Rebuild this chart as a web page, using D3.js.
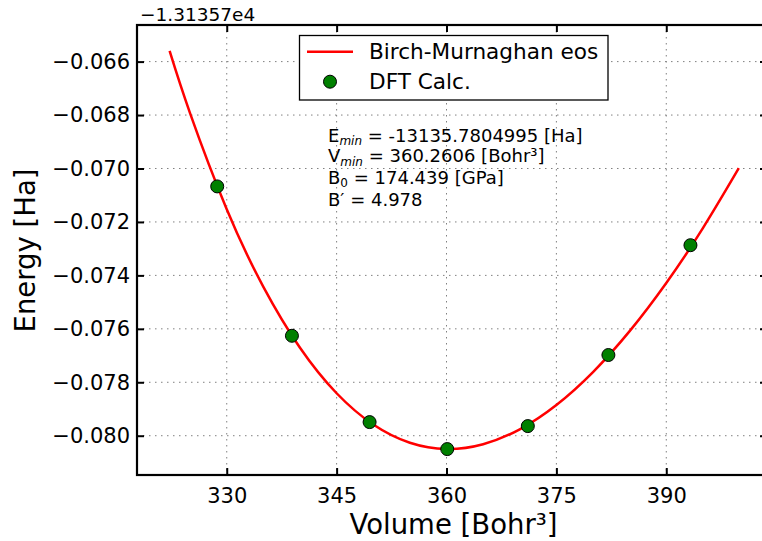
<!DOCTYPE html>
<html>
<head>
<meta charset="utf-8">
<script src="https://cdn.jsdelivr.net/npm/d3@7"></script>
<style>
  html, body { margin: 0; padding: 0; background: #ffffff; }
  svg { display: block; font-family: "DejaVu Sans", sans-serif; }
</style>
</head>
<body>
<svg id="chart" width="762" height="541"></svg>
<script>
// ---- data ----
const xTicks = [330, 345, 360, 375, 390];
const xTickLabels = ["330", "345", "360", "375", "390"];
const yTicks = [-0.080, -0.078, -0.076, -0.074, -0.072, -0.070, -0.068, -0.066];
const yTickLabels = ["\u22120.080", "\u22120.078", "\u22120.076", "\u22120.074", "\u22120.072", "\u22120.070", "\u22120.068", "\u22120.066"];
const offsetLabel = "\u22121.31357e4";

// DFT calculation points (relative to offset)
const dftVolume = [328.7, 338.9, 349.5, 360.1, 371.1, 382.1, 393.3];
const dftEnergy = [-0.07067, -0.07626, -0.07949, -0.08050, -0.07964, -0.07698, -0.07287];

// Birch-Murnaghan fit curve, sampled along the red line
const fitVolume = [322.2, 325, 330, 335, 340, 345, 350, 355, 360, 365, 370, 375, 380, 385, 390, 395, 399.9];
const fitEnergy = [-0.06560, -0.067937, -0.071524, -0.07443, -0.076709, -0.078411, -0.079582, -0.080265,
                   -0.080499, -0.080319, -0.079759, -0.078849, -0.077617, -0.076087, -0.074285, -0.072232, -0.06999];

const legendLabels = ["Birch-Murnaghan eos", "DFT Calc."];
const xLabel = "Volume [Bohr\u00B3]";
const yLabel = "Energy [Ha]";

// ---- layout ----
const svg = d3.select("#chart");
const pLeft = 137, pRight = 767, pTop = 25, pBottom = 475;

const x = d3.scaleLinear().domain([317.75, 403.75]).range([pLeft, pRight]);
const y = d3.scaleLinear().domain([-0.08147, -0.06463]).range([pBottom, pTop]);

svg.append("rect").attr("width", 762).attr("height", 541).attr("fill", "#ffffff");

// grid
const grid = svg.append("g");
grid.selectAll("line.gx").data(xTicks).enter().append("line")
  .attr("x1", d => x(d)).attr("x2", d => x(d))
  .attr("y1", pTop).attr("y2", pBottom)
  .attr("stroke", "#808080").attr("stroke-width", 1).attr("stroke-dasharray", "1.5,4.5");
grid.selectAll("line.gy").data(yTicks).enter().append("line")
  .attr("x1", pLeft).attr("x2", pRight)
  .attr("y1", d => y(d)).attr("y2", d => y(d))
  .attr("stroke", "#808080").attr("stroke-width", 1).attr("stroke-dasharray", "1.5,4.5");

// axes
const fs = 21;
const yAxis = d3.axisLeft(y).tickValues(yTicks)
  .tickFormat((d, i) => yTickLabels[i]).tickSizeInner(-7).tickSizeOuter(0).tickPadding(7);
const gy = svg.append("g").attr("transform", `translate(${pLeft},0)`).call(yAxis);
gy.select(".domain").remove();
gy.selectAll(".tick line").attr("stroke", "#000").attr("stroke-width", 2);
gy.selectAll(".tick text").attr("font-size", fs).attr("font-family", "DejaVu Sans").attr("fill", "#000");

const xAxis = d3.axisBottom(x).tickValues(xTicks)
  .tickFormat((d, i) => xTickLabels[i]).tickSizeInner(-7).tickSizeOuter(0).tickPadding(13);
const gx = svg.append("g").attr("transform", `translate(0,${pBottom})`).call(xAxis);
gx.select(".domain").remove();
gx.selectAll(".tick line").attr("stroke", "#000").attr("stroke-width", 2);
gx.selectAll(".tick text").attr("font-size", fs).attr("font-family", "DejaVu Sans").attr("fill", "#000");

const xAxisTop = d3.axisTop(x).tickValues(xTicks).tickFormat("").tickSizeInner(-7).tickSizeOuter(0);
const gxt = svg.append("g").attr("transform", `translate(0,${pTop})`).call(xAxisTop);
gxt.select(".domain").remove();
gxt.selectAll(".tick line").attr("stroke", "#000").attr("stroke-width", 2);

const yAxisRight = d3.axisRight(y).tickValues(yTicks).tickFormat("").tickSizeInner(-7).tickSizeOuter(0);
const gyr = svg.append("g").attr("transform", `translate(${pRight},0)`).call(yAxisRight);
gyr.select(".domain").remove();
gyr.selectAll(".tick line").attr("stroke", "#000").attr("stroke-width", 2);

// spines
svg.append("rect").attr("x", pLeft).attr("y", pTop)
  .attr("width", pRight - pLeft).attr("height", pBottom - pTop)
  .attr("fill", "none").attr("stroke", "#000").attr("stroke-width", 2.2);

// offset text
svg.append("text").attr("x", 140).attr("y", 21).attr("font-size", 18.5).attr("fill", "#000")
  .text(offsetLabel);

// fit curve
const fitData = fitVolume.map((v, i) => [v, fitEnergy[i]]);
svg.append("path").datum(fitData)
  .attr("d", d3.line().x(d => x(d[0])).y(d => y(d[1])).curve(d3.curveNatural))
  .attr("fill", "none").attr("stroke", "#ff0000").attr("stroke-width", 2.5);

// DFT points
const dftData = dftVolume.map((v, i) => [v, dftEnergy[i]]);
svg.append("g").selectAll("circle").data(dftData).enter().append("circle")
  .attr("cx", d => x(d[0])).attr("cy", d => y(d[1])).attr("r", 6.5)
  .attr("fill", "#008000").attr("stroke", "#000").attr("stroke-width", 1);

// annotation
const ann = svg.append("g").attr("font-size", 18).attr("fill", "#000");
const annX = 328;
function subLine(yb, main, sub, italic, rest) {
  const t = ann.append("text").attr("x", annX).attr("y", yb);
  t.append("tspan").text(main);
  t.append("tspan").attr("dy", 3.5).attr("font-size", 12)
    .attr("font-style", italic ? "italic" : "normal").text(sub);
  t.append("tspan").attr("dy", -3.5).text(rest);
}
subLine(141.5, "E", "min", true, " = -13135.7804995 [Ha]");
subLine(162, "V", "min", true, " = 360.2606 [Bohr\u00B3]");
subLine(183.5, "B", "0", false, " = 174.439 [GPa]");
ann.append("text").attr("x", annX).attr("y", 205.5).text("B\u2032 = 4.978");

// legend
const lg = svg.append("g");
lg.append("rect").attr("x", 299.5).attr("y", 35.5).attr("width", 308.5).attr("height", 64.5)
  .attr("fill", "#ffffff").attr("stroke", "#000").attr("stroke-width", 1.3);
lg.append("line").attr("x1", 307).attr("x2", 353).attr("y1", 51.7).attr("y2", 51.7)
  .attr("stroke", "#ff0000").attr("stroke-width", 2.5);
lg.append("circle").attr("cx", 330).attr("cy", 81.7).attr("r", 6.5)
  .attr("fill", "#008000").attr("stroke", "#000").attr("stroke-width", 1);
lg.append("text").attr("x", 369).attr("y", 58.5).attr("font-size", 21.6).attr("fill", "#000").text(legendLabels[0]);
lg.append("text").attr("x", 369).attr("y", 88.5).attr("font-size", 21.6).attr("fill", "#000").text(legendLabels[1]);

// axis labels
svg.append("text").attr("x", 453.5).attr("y", 534)
  .attr("text-anchor", "middle").attr("font-size", 27.5).attr("fill", "#000").text(xLabel);
svg.append("text").attr("transform", `translate(35,${(pTop + pBottom) / 2 + 0.5}) rotate(-90)`)
  .attr("text-anchor", "middle").attr("font-size", 27.5).attr("fill", "#000").text(yLabel);
</script>
</body>
</html>
